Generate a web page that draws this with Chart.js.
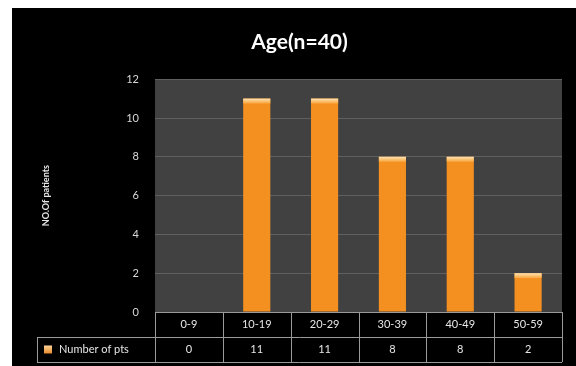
<!DOCTYPE html>
<html>
<head>
<meta charset="utf-8">
<script src="https://cdn.jsdelivr.net/npm/chart.js@4.4.0/dist/chart.umd.min.js"></script>
<style>
  html, body { margin: 0; padding: 0; background: #fff; }
  #wrap { position: absolute; left: 12px; top: 8px; width: 564px; height: 358px; background: #000; }
</style>
</head>
<body>
<div id="wrap"><canvas id="ageChart" width="564" height="358"></canvas></div>
<script>
// Age groups and patient counts
var ageGroups = ['0-9', '10-19', '20-29', '30-39', '40-49', '50-59'];
var patientCounts = [0, 11, 11, 8, 8, 2];
var seriesName = 'Number of pts';
var yTicks = [0, 2, 4, 6, 8, 10, 12];

var fontFamily = 'Lato, "Open Sans", sans-serif';

// Dark plot area behind the bars
var plotBackground = {
    id: 'plotBackground',
    beforeDraw: function(chart) {
        var a = chart.chartArea;
        var ctx = chart.ctx;
        ctx.save();
        ctx.fillStyle = '#414141';
        ctx.fillRect(a.left, a.top, a.right - a.left, a.bottom - a.top);
        ctx.restore();
    }
};

// Lighter cap on top of each bar
var barCaps = {
    id: 'barCaps',
    afterDatasetsDraw: function(chart) {
        var ctx = chart.ctx;
        var meta = chart.getDatasetMeta(0);
        ctx.save();
        meta.data.forEach(function(bar, i) {
            if (!patientCounts[i]) return;
            var w = bar.width;
            var g = ctx.createLinearGradient(0, bar.y, 0, bar.y + 5);
            g.addColorStop(0, '#fde3b4');
            g.addColorStop(1, '#f9a43a');
            ctx.fillStyle = g;
            ctx.fillRect(bar.x - w / 2, bar.y, w, 5);
        });
        ctx.restore();
    }
};

// Data table under the plot
var dataTable = {
    id: 'dataTable',
    afterDraw: function(chart) {
        var ctx = chart.ctx;
        var a = chart.chartArea;
        var x = chart.scales.x;
        var rowH = 25;
        var top = a.bottom;
        var labelLeft = 25;
        var colW = (a.right - a.left) / ageGroups.length;
        ctx.save();
        ctx.strokeStyle = '#9a9a9a';
        ctx.lineWidth = 1;
        ctx.beginPath();
        // horizontal lines
        ctx.moveTo(a.left, top + 0.5); ctx.lineTo(a.right, top + 0.5);
        ctx.moveTo(labelLeft, top + rowH + 0.5); ctx.lineTo(a.right, top + rowH + 0.5);
        ctx.moveTo(labelLeft, top + 2 * rowH + 0.5); ctx.lineTo(a.right, top + 2 * rowH + 0.5);
        // vertical lines
        ctx.moveTo(labelLeft + 0.5, top + rowH); ctx.lineTo(labelLeft + 0.5, top + 2 * rowH);
        for (var i = 0; i <= ageGroups.length; i++) {
            var px = Math.round(a.left + i * colW) + 0.5;
            ctx.moveTo(px, top); ctx.lineTo(px, top + 2 * rowH);
        }
        ctx.stroke();

        ctx.fillStyle = '#e6e6e6';
        ctx.font = '11px ' + fontFamily;
        ctx.textAlign = 'center';
        ctx.textBaseline = 'middle';
        ageGroups.forEach(function(lbl, i) {
            var cx = x.getPixelForValue(i);
            ctx.fillText(lbl, cx, top + rowH / 2);
            ctx.fillText(String(patientCounts[i]), cx, top + rowH * 1.5);
        });

        // legend swatch and series name
        var sw = ctx.createLinearGradient(0, top + rowH * 1.5 - 4, 0, top + rowH * 1.5 + 4);
        sw.addColorStop(0, '#fbd39a');
        sw.addColorStop(1, '#e88a28');
        ctx.fillStyle = sw;
        ctx.fillRect(labelLeft + 7, top + rowH * 1.5 - 4, 8, 8);
        ctx.fillStyle = '#e6e6e6';
        ctx.textAlign = 'left';
        ctx.fillText(seriesName, labelLeft + 22, top + rowH * 1.5);
        ctx.restore();
    }
};

var ctx = document.getElementById('ageChart').getContext('2d');

function barGradient(context) {
    var el = context.element;
    if (!el || !el.width) return '#f39020';
    var c = context.chart.ctx;
    var g = c.createLinearGradient(el.x - el.width / 2, 0, el.x + el.width / 2, 0);
    g.addColorStop(0, '#f08818');
    g.addColorStop(0.45, '#f9a030');
    g.addColorStop(1, '#ec8414');
    return g;
}

var ageChart = new Chart(ctx, {
    type: 'bar',
    data: {
        labels: ageGroups,
        datasets: [{
            label: seriesName,
            data: patientCounts,
            backgroundColor: barGradient,
            borderWidth: 0,
            barPercentage: 0.4,
            categoryPercentage: 1
        }]
    },
    options: {
        responsive: false,
        animation: false,
        layout: {
            padding: { left: 25, top: 0, right: 14, bottom: 54 }
        },
        plugins: {
            legend: { display: false },
            tooltip: { enabled: false },
            title: {
                display: true,
                text: 'Age(n=40)',
                color: '#ffffff',
                font: { family: fontFamily, size: 21, weight: 'bold' },
                padding: { top: 22, bottom: 24 }
            }
        },
        scales: {
            x: {
                display: false
            },
            y: {
                min: 0,
                max: 12,
                afterBuildTicks: function(axis) {
                    axis.ticks = yTicks.map(function(v) { return { value: v }; });
                },
                afterFit: function(axis) {
                    axis.width = 118;
                },
                border: { display: false },
                grid: {
                    color: '#606060',
                    lineWidth: 1,
                    drawTicks: false
                },
                ticks: {
                    color: '#d9d9d9',
                    padding: 16,
                    font: { family: fontFamily, size: 11 }
                },
                title: {
                    display: true,
                    text: 'NO.Of patients',
                    color: '#e6e6e6',
                    font: { family: fontFamily, size: 9, weight: 'bold' },
                    padding: { top: 4, bottom: 0 }
                }
            }
        }
    },
    plugins: [plotBackground, barCaps, dataTable]
});
</script>
</body>
</html>
